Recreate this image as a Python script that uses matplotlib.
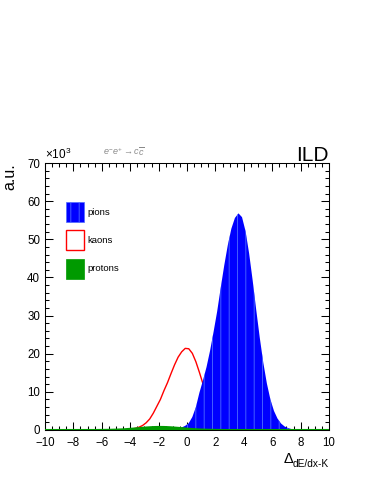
import numpy as np
import matplotlib
matplotlib.use("Agg")
import matplotlib.pyplot as plt
from matplotlib.patches import Patch

plt.rcParams['font.family'] = ['Liberation Sans', 'DejaVu Sans']
plt.rcParams['mathtext.fontset'] = 'custom'
plt.rcParams['mathtext.rm'] = 'Liberation Sans'
plt.rcParams['mathtext.it'] = 'Liberation Sans:italic'
plt.rcParams['hatch.color'] = '#4f6dff'
plt.rcParams['hatch.linewidth'] = 0.6

# histogram: 80 bins of width 0.25 from -10 to 10, values in units of 10^3
bin_lo, bin_hi, n_bins = -10.0, 10.0, 80

pions = [0]*32 + [
    0.01, 0.02, 0.04, 0.08, 0.18, 0.35, 0.65, 1.1, 1.8, 3.4,
    6.0, 9.8, 13.0, 16.5, 20.8, 25.8, 31.1, 37.3, 43.2,
    48.5, 52.8, 55.6, 56.8, 55.8, 52.1, 46.3, 39.2, 31.5, 24.2,
    17.6, 12.2, 8.0, 5.0, 3.0, 1.7, 0.92, 0.48, 0.23, 0.10,
    0.04] + [0]*8

kaons = [0]*21 + [
    0.03, 0.07, 0.14, 0.25, 0.44, 0.74, 1.19, 1.9, 2.9, 4.4,
    6.2, 8.0, 10.3, 12.4, 14.8, 17.1, 19.1, 20.5, 21.4, 21.3,
    20.1, 17.9, 15.1, 12.1, 9.1, 6.5, 4.3, 2.8, 1.66, 0.94,
    0.5, 0.25, 0.12, 0.05] + [0]*25

protons = [0]*15 + [
    0.015, 0.024, 0.037, 0.055, 0.08, 0.11, 0.15, 0.20, 0.27, 0.34,
    0.41, 0.49, 0.57, 0.65, 0.71, 0.76, 0.79, 0.80, 0.79, 0.75,
    0.70, 0.63, 0.56, 0.48, 0.40, 0.32, 0.25, 0.19, 0.14, 0.10,
    0.07, 0.05, 0.03, 0.02, 0.01] + [0]*30

legend_labels = ['pions', 'kaons', 'protons']
process_label = r'$e^{-}e^{+}\rightarrow c\overline{c}$'

edges = np.linspace(bin_lo, bin_hi, n_bins + 1)
centers = 0.5 * (edges[:-1] + edges[1:])
xs = np.r_[bin_lo, centers, bin_hi]
pi_y = np.r_[0, pions, 0]
k_y = np.r_[0, kaons, 0]
p_y = np.r_[0, protons, 0]

blue = '#0000ff'
red = '#ff0000'
green = '#009a00'

fig = plt.figure(figsize=(3.74, 4.84), dpi=100)
ax = fig.add_axes([45/374, 54/484, 284/374, 267/484])

ax.plot(xs, k_y, color=red, lw=1.0, zorder=2)
ax.fill_between(xs, 0, pi_y, facecolor=blue, edgecolor='#4f6dff', hatch='||', lw=0, zorder=3)
ax.fill_between(xs, 0, p_y, facecolor=green, lw=0, zorder=4)
ax.plot(xs, p_y, color=green, lw=1.5, zorder=4)

ax.set_xlim(-10, 10)
ax.set_ylim(0, 70)
ax.set_xticks(np.arange(-10, 11, 2))
ax.set_xticks(np.arange(-10, 10.01, 0.5), minor=True)
ax.set_yticks(np.arange(0, 71, 10))
ax.set_yticks(np.arange(0, 70.01, 2), minor=True)
ax.tick_params(which='both', direction='in', top=True, right=True,
               width=0.75, labelsize=8.3, colors='black')
ax.tick_params(which='major', length=6, pad=3.5)
ax.tick_params(axis='x', which='major', pad=5)
ax.tick_params(which='minor', length=3)
for s in ax.spines.values():
    s.set_linewidth(0.75)

ax.text(0.0, 1.003, r'$\times10^{3}$', transform=ax.transAxes, fontsize=8.5,
        ha='left', va='bottom')
ax.text(0.204, 1.02, process_label, transform=ax.transAxes, fontsize=6.5,
        color='#8a8a8a', ha='left', va='bottom')
ax.text(1.0, 1.006, 'ILD', transform=ax.transAxes, fontsize=15,
        ha='right', va='baseline')

ax.text(1.0, -0.137, 'dE/dx-K', transform=ax.transAxes, fontsize=7.3,
        ha='right', va='baseline')
ax.text(0.873, -0.125, '\u0394', transform=ax.transAxes, fontsize=10.5,
        ha='right', va='baseline')
fig.text(9.5/374, (484-163)/484, 'a.u.', rotation=90, fontsize=11.5,
         ha='center', va='top')

handles = [Patch(facecolor=blue, edgecolor='#4f6dff', hatch='||', lw=0.5),
           Patch(facecolor='white', edgecolor=red, lw=1.0),
           Patch(facecolor=green, edgecolor=green, lw=0.5)]
ax.legend(handles, legend_labels, loc='upper left', bbox_to_anchor=(0.073, 0.855),
          frameon=False, fontsize=6.8, borderpad=0, borderaxespad=0,
          handlelength=1.9, handleheight=2.9, labelspacing=0.88, handletextpad=0.36)

fig.savefig('out.png', dpi=100)
